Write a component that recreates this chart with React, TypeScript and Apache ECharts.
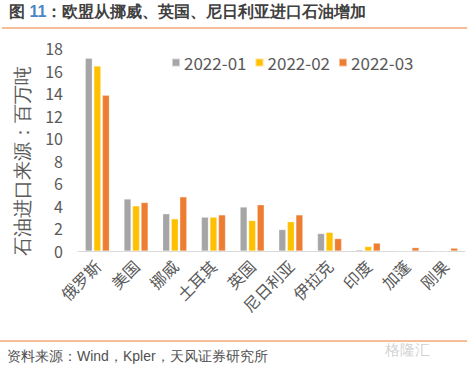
import React, { useEffect, useRef } from "react";
import * as echarts from "echarts";

const categories = ["俄罗斯", "美国", "挪威", "土耳其", "英国", "尼日利亚", "伊拉克", "印度", "加蓬", "刚果"];
const s2201 = [17.1, 4.6, 3.3, 3.0, 3.9, 1.9, 1.55, 0.1, 0, 0];
const s2202 = [16.4, 4.0, 2.85, 3.0, 2.7, 2.6, 1.65, 0.4, 0, 0];
const s2203 = [13.8, 4.3, 4.8, 3.2, 4.1, 3.2, 1.1, 0.7, 0.3, 0.25];
const seriesNames = ["2022-01", "2022-02", "2022-03"];
const colors = ["#a5a5a5", "#ffc000", "#ed7d31"];

export default function App() {
  const ref = useRef<HTMLDivElement>(null);
  useEffect(() => {
    const chart = echarts.init(ref.current!, null, { renderer: "svg" });
    const data = [s2201, s2202, s2203];
    chart.setOption({
      animation: false,
      textStyle: { fontFamily: "'Noto Sans CJK SC', 'Noto Sans', sans-serif" },
      legend: {
        top: 49,
        left: 166,
        itemWidth: 8,
        itemHeight: 8,
        itemGap: 8,
        icon: "rect",
        textStyle: { fontSize: 17, color: "#595959", padding: [0, 0, 0, -1] },
        data: seriesNames,
      },
      grid: { left: 78, right: 2, top: 48, bottom: 117, containLabel: false },
      xAxis: {
        type: "category",
        data: categories,
        axisLine: { lineStyle: { color: "#d9d9d9", width: 1 } },
        axisTick: { show: false },
        axisLabel: { rotate: 45, fontSize: 16, color: "#595959", margin: 12, interval: 0 },
      },
      yAxis: {
        type: "value",
        min: 0,
        max: 18,
        interval: 2,
        splitLine: { show: false },
        axisLine: { show: false },
        axisTick: { show: false },
        axisLabel: { fontSize: 16, color: "#595959", margin: 15 },
      },
      series: data.map((d, i) => ({
        name: seriesNames[i],
        type: "bar",
        data: d,
        barWidth: 7,
        barGap: "22%",
        itemStyle: { color: colors[i], borderColor: "rgba(255,255,255,0.5)", borderWidth: 0.5 },
      })),
      graphic: [
        {
          type: "text",
          left: 9,
          top: 3,
          style: {
            text: "{a|图 }{b|11}{a|：欧盟从挪威、英国、尼日利亚进口石油增加}",
            rich: {
              a: { fontSize: 16, fontWeight: "bold", fill: "#404040" },
              b: { fontSize: 16, fontWeight: "bold", fill: "#4a86c5" },
            },
          },
        },
        {
          type: "line",
          shape: { x1: 2, y1: 28, x2: 467, y2: 28 },
          style: { stroke: "#ed7d31", lineWidth: 1 },
        },
        {
          type: "text",
          x: 22,
          y: 161,
          rotation: Math.PI / 2,
          style: {
            text: "石油进口来源：百万吨",
            fontSize: 19,
            fill: "#595959",
            align: "center",
            verticalAlign: "middle",
          },
        },
        {
          type: "line",
          shape: { x1: 0, y1: 341, x2: 467, y2: 341 },
          style: { stroke: "#ed7d31", lineWidth: 1 },
        },
        {
          type: "text",
          left: 7,
          top: 349,
          style: { text: "资料来源：Wind，Kpler，天风证券研究所", fontSize: 14, fill: "#505050" },
        },
        {
          type: "text",
          left: 385,
          top: 342,
          style: { text: "格隆汇", fontSize: 15, fill: "rgba(150,150,150,0.45)" },
        },
      ],
    });
    return () => chart.dispose();
  }, []);
  return (
    <div
      ref={ref}
      style={{ position: "fixed", left: 0, top: 0, width: 467, height: 368, background: "#fff" }}
    />
  );
}
